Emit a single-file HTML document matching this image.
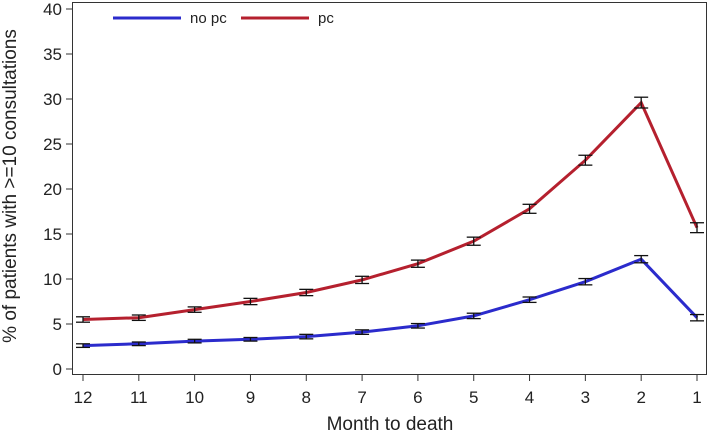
<!DOCTYPE html>
<html><head><meta charset="utf-8"><style>
body{margin:0;background:#fff}
svg{display:block;font-family:"Liberation Sans",Arial,sans-serif}
</style></head><body>
<svg id="chart" width="709" height="438">
<rect x="72.5" y="2.5" width="634" height="372" fill="none" stroke="#333" stroke-width="1"/>
<g id="axes"></g><g id="series"></g>
<g>
<line x1="113" y1="18" x2="181" y2="18" stroke="#2b2bcc" stroke-width="3"/>
<text x="190" y="23" font-size="15" fill="#222">no pc</text>
<line x1="241" y1="18" x2="309" y2="18" stroke="#b5202e" stroke-width="3"/>
<text x="318" y="23" font-size="15" fill="#222">pc</text>
</g>
<text transform="translate(16,186) rotate(-90)" text-anchor="middle" font-size="19" fill="#222">% of patients with &gt;=10 consultations</text>
<text x="390" y="430" text-anchor="middle" font-size="19" fill="#222">Month to death</text>
</svg>
<script>
const months=[12,11,10,9,8,7,6,5,4,3,2,1];
const noPc=[2.6,2.8,3.1,3.3,3.6,4.1,4.8,5.9,7.7,9.7,12.2,5.7];
const pc=[5.5,5.7,6.6,7.5,8.5,9.9,11.7,14.2,17.8,23.2,29.6,15.7];
const noPcErr=[0.2,0.2,0.2,0.2,0.25,0.25,0.25,0.3,0.3,0.35,0.4,0.35];
const pcErr=[0.3,0.3,0.3,0.35,0.35,0.4,0.4,0.45,0.5,0.55,0.6,0.55];
const yTicks=[0,5,10,15,20,25,30,35,40];
const NS="http://www.w3.org/2000/svg";
const xs=i=>83+i*(697-83)/(months.length-1);
const ys=v=>369-v*9;
function mk(t,a,p){const e=document.createElementNS(NS,t);for(const k in a)e.setAttribute(k,a[k]);p.appendChild(e);return e;}
const axes=document.getElementById('axes'),ser=document.getElementById('series');
yTicks.forEach(v=>{
 const l=mk('line',{x1:66,x2:72.5,y1:ys(v),y2:ys(v),stroke:'#333'},axes);
 
 
 const t=mk('text',{x:62,y:ys(v)+6,'text-anchor':'end','font-size':17,fill:'#222'},axes);
 t.textContent=v;
 
 
});
months.forEach((m,i)=>{
 const l=mk('line',{x1:xs(i),x2:xs(i),y1:374.5,y2:381,stroke:'#333'},axes);
 
 
 const t=mk('text',{x:xs(i),y:403,'text-anchor':'middle','font-size':17,fill:'#222'},axes);
 t.textContent=m;
 
 
});
function draw(vals,errs,color,name){
 const p=mk('polyline',{points:vals.map((v,i)=>xs(i)+','+ys(v)).join(' '),fill:'none',stroke:color,'stroke-width':3},ser);
 
 
 vals.forEach((v,i)=>{
  const g=mk('g',{stroke:'#111','stroke-width':1.3},ser);
  
  
  const x=xs(i),a=ys(v+errs[i]),b=ys(v-errs[i]);
  mk('line',{x1:x,x2:x,y1:a,y2:b},g);
  mk('line',{x1:x-7,x2:x+7,y1:a,y2:a},g);
  mk('line',{x1:x-7,x2:x+7,y1:b,y2:b},g);
 });
}
draw(noPc,noPcErr,'#2b2bcc','no-pc');
draw(pc,pcErr,'#b5202e','pc');
</script>
</body></html>
